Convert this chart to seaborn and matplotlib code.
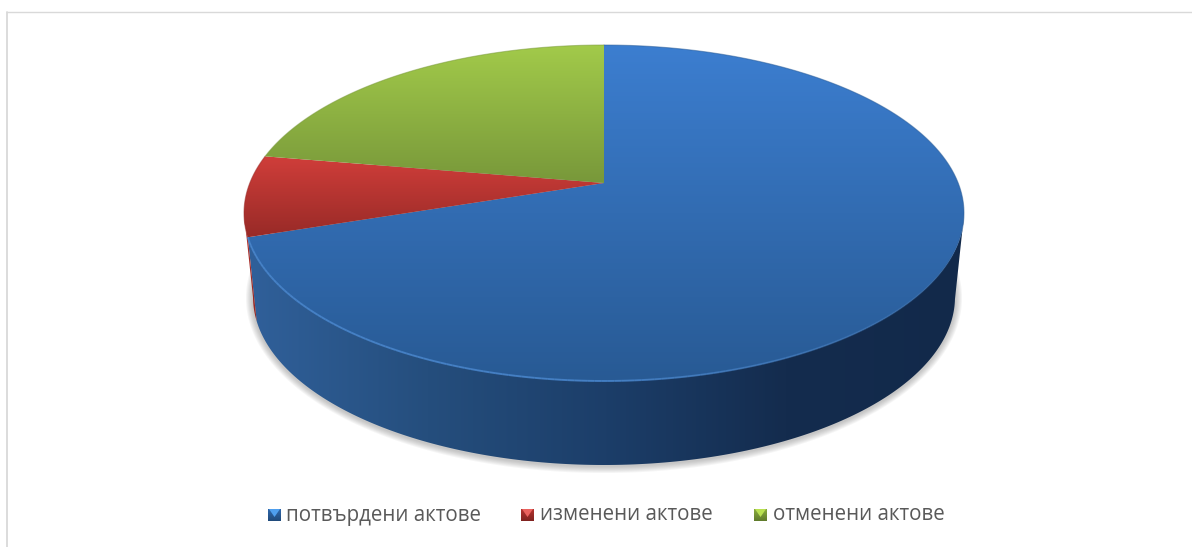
import numpy as np
import matplotlib
matplotlib.use('Agg')
import matplotlib.pyplot as plt
from matplotlib.patches import Polygon
import seaborn as sns

labels = ['потвърдени актове', 'изменени актове', 'отменени актове']
values = [69.9, 7.8, 22.3]

top_colors = [('#3c7ed0', '#285a94'), ('#d03e3a', '#982a27'), ('#a2ca4a', '#78983a')]
key_colors = [('#2f68ac', '#204a7a'), ('#b5332f', '#7f2320'), ('#8aac3e', '#5f7a2c')]
key_light = ['#4f9fee', '#ea625e', '#b9e052']
side_blue = ['#30609a', '#254e7d', '#1c3e69', '#142c4e', '#12294a']
side_red = ['#b8332f', '#8f2623']
text_color = '#595959'

W, H = 1192, 547
CX = 604
TOP_Y, TOP_A, TOP_B = 213, 360, 168
BOT_Y, BOT_A, BOT_B = 297, 351, 168
P = -30 / 168  # apex of the pie sits above the middle of the ellipse


def rim(t):
    # t = degrees clockwise from the top, gives normalised ellipse coords
    r = np.radians(t)
    x, y = np.sin(r), -np.cos(r)
    d = 1 + P * y
    return x * np.sqrt(1 - P ** 2) / d, (y + P) / d


def top_xy(nx, ny):
    return CX + nx * TOP_A, TOP_Y + ny * TOP_B


def bot_xy(nx, ny):
    return CX + nx * BOT_A, BOT_Y + ny * BOT_B


def gradient(ax, path, colors, vertical=True):
    # image with a seaborn blend, cut to the shape
    x0, x1 = path[:, 0].min(), path[:, 0].max()
    y0, y1 = path[:, 1].min(), path[:, 1].max()
    cmap = sns.blend_palette(colors, n_colors=256, as_cmap=True)
    g = np.linspace(0, 1, 256)
    g = g.reshape(-1, 1) if vertical else g.reshape(1, -1)
    im = ax.imshow(g, cmap=cmap, vmin=0, vmax=1, extent=[x0, x1, y1, y0],
                   aspect='auto', interpolation='bilinear', zorder=ax.zz)
    poly = Polygon(path, closed=True, transform=ax.transData, fc='none', ec='none')
    ax.add_patch(poly)
    im.set_clip_path(poly)
    ax.zz += 1


sns.set_theme(style='white')
plt.rcParams['font.family'] = ['Open Sans', 'DejaVu Sans']

fig = plt.figure(figsize=(W / 100, H / 100), dpi=100, facecolor='white')
ax = fig.add_axes([0, 0, 1, 1])
ax.zz = 2
ax.axis('off')

# frame, only top and left show in the crop
ax.plot([6.5, 6.5], [547, 11.5], color='#d9d9d9', lw=1.3, zorder=1)
ax.plot([6.5, 1192], [11.5, 11.5], color='#d9d9d9', lw=1.0, zorder=1)

# soft shadow under the disc
tt = np.linspace(0, 360, 361)
nx, ny = np.sin(np.radians(tt)), np.cos(np.radians(tt))
for grow in np.arange(7, 0, -1):
    ax.fill(CX + nx * (BOT_A + grow), BOT_Y + 1 + ny * (BOT_B + grow), color='#777777',
            alpha=0.07, lw=0, zorder=1.5)

edges = np.cumsum([0] + values) / sum(values) * 360

# walls first, only the front half is seen
for i in range(2):
    t = np.linspace(edges[i], edges[i + 1], 300)
    rx, ry = rim(t)
    keep = ry >= 0
    rx, ry = rx[keep], ry[keep]
    tx, ty = top_xy(rx, ry)
    bx, by = bot_xy(rx, ry)
    wall = np.column_stack([np.r_[tx, bx[::-1]], np.r_[ty, by[::-1]]])
    if i == 0:
        # light end on the left of the wall
        gradient(ax, wall, side_blue, vertical=False)
    else:
        gradient(ax, wall, side_red, vertical=False)

# top faces
apex = np.array([CX, TOP_Y + P * TOP_B])
for i in range(3):
    t = np.linspace(edges[i], edges[i + 1], 300)
    x, y = top_xy(*rim(t))
    face = np.vstack([apex, np.column_stack([x, y])])
    gradient(ax, face, top_colors[i])
    ax.plot(x, y, color=top_colors[i][1], lw=0.8, alpha=0.5, zorder=ax.zz)

# light bevel along the front of the blue face, fades out to the right
t = np.linspace(110, edges[1], 160)
x, y = top_xy(*rim(t))
fade = np.clip((t - 110) / 70, 0, 1)
for j in range(len(t) - 1):
    ax.plot(x[j:j + 2], y[j:j + 2], color='#4a88d0', lw=1.4, alpha=0.8 * fade[j],
            solid_capstyle='butt', zorder=ax.zz)

# legend
key_x = [268, 521, 754]
text_x = [286, 540, 773]
leg_y = 515
s = 13
for i in range(3):
    sq = np.array([[key_x[i], leg_y - 6], [key_x[i] + s, leg_y - 6],
                   [key_x[i] + s, leg_y + 6], [key_x[i], leg_y + 6]], dtype=float)
    gradient(ax, sq, key_colors[i])
    tri = [[key_x[i] + 1, leg_y - 6], [key_x[i] + s - 1, leg_y - 6], [key_x[i] + s / 2, leg_y + 2]]
    ax.fill(*zip(*tri), color=key_light[i], lw=0, zorder=ax.zz)
    ax.text(text_x[i], leg_y, labels[i], fontsize=14.8, color=text_color,
            va='center', ha='left', zorder=ax.zz)

ax.set_xlim(0, W)
ax.set_ylim(H, 0)
fig.savefig('out.png', dpi=100)
